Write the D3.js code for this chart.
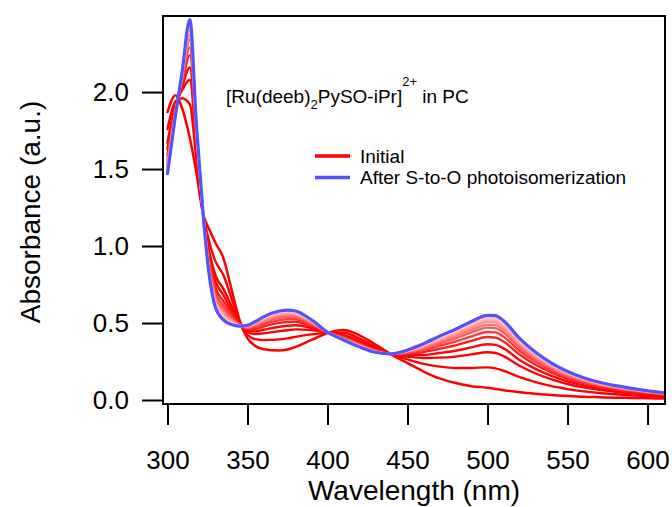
<!DOCTYPE html>
<html>
<head>
<meta charset="utf-8">
<script src="https://cdn.jsdelivr.net/npm/d3@7"></script>
<style>
  html, body { margin: 0; padding: 0; background: #fff; }
  svg { display: block; }
  text { font-family: "Liberation Sans", Arial, Helvetica, sans-serif; fill: #000; }
</style>
</head>
<body>
<svg id="chart" width="672" height="507"></svg>
<script>
// Wavelength grid (nm)
const wavelength = [300, 305, 309, 314, 318, 322, 326, 330, 335, 340, 345, 350, 355, 360, 370, 375, 380, 390, 400, 410, 420, 430, 440, 450, 460, 470, 480, 490, 500, 505, 510, 520, 530, 540, 550, 560, 570, 580, 590, 600, 611];

// Absorbance before irradiation
const initialSpectrum = [1.87, 1.98, 1.90, 1.70, 1.48, 1.22, 1.11, 1.02, 0.92, 0.72, 0.52, 0.40, 0.35, 0.33, 0.322, 0.328, 0.345, 0.39, 0.435, 0.455, 0.42, 0.36, 0.295, 0.24, 0.185, 0.14, 0.11, 0.09, 0.08, 0.072, 0.064, 0.05, 0.04, 0.032, 0.026, 0.021, 0.018, 0.015, 0.013, 0.011, 0.01];

// Absorbance after S-to-O photoisomerization
const finalSpectrum = [1.47, 1.85, 2.12, 2.47, 1.80, 1.24, 0.82, 0.60, 0.52, 0.49, 0.48, 0.485, 0.51, 0.54, 0.578, 0.584, 0.578, 0.52, 0.44, 0.39, 0.345, 0.31, 0.30, 0.325, 0.365, 0.415, 0.46, 0.51, 0.55, 0.548, 0.515, 0.40, 0.31, 0.24, 0.185, 0.145, 0.115, 0.093, 0.075, 0.06, 0.047];

// Spectra recorded during irradiation, in time order
const intermediateSpectra = [
  [1.76, 1.94, 1.96, 1.92, 1.57, 1.23, 1.03, 0.90, 0.81, 0.66, 0.509, 0.424, 0.395, 0.389, 0.394, 0.40, 0.41, 0.426, 0.436, 0.437, 0.399, 0.346, 0.296, 0.264, 0.235, 0.217, 0.208, 0.208, 0.212, 0.205, 0.19, 0.148, 0.116, 0.09, 0.071, 0.056, 0.045, 0.037, 0.03, 0.025, 0.02],
  [1.67, 1.92, 2.01, 2.08, 1.64, 1.23, 0.97, 0.81, 0.72, 0.61, 0.50, 0.442, 0.428, 0.433, 0.447, 0.453, 0.459, 0.454, 0.437, 0.423, 0.383, 0.335, 0.297, 0.282, 0.273, 0.275, 0.282, 0.296, 0.31, 0.305, 0.285, 0.222, 0.172, 0.134, 0.104, 0.082, 0.066, 0.053, 0.043, 0.035, 0.028],
  [1.63, 1.90, 2.03, 2.16, 1.67, 1.23, 0.94, 0.77, 0.68, 0.58, 0.496, 0.451, 0.446, 0.456, 0.476, 0.482, 0.485, 0.468, 0.438, 0.416, 0.375, 0.33, 0.298, 0.291, 0.293, 0.305, 0.32, 0.342, 0.362, 0.358, 0.335, 0.26, 0.202, 0.157, 0.121, 0.095, 0.076, 0.062, 0.05, 0.04, 0.032],
  [1.59, 1.89, 2.05, 2.24, 1.70, 1.23, 0.91, 0.73, 0.64, 0.56, 0.492, 0.46, 0.462, 0.477, 0.501, 0.507, 0.508, 0.481, 0.439, 0.409, 0.367, 0.325, 0.299, 0.30, 0.311, 0.333, 0.355, 0.384, 0.409, 0.405, 0.38, 0.295, 0.229, 0.178, 0.137, 0.108, 0.086, 0.07, 0.056, 0.045, 0.036],
  [1.56, 1.88, 2.07, 2.29, 1.73, 1.24, 0.89, 0.70, 0.61, 0.54, 0.489, 0.465, 0.473, 0.492, 0.519, 0.525, 0.524, 0.49, 0.439, 0.405, 0.362, 0.321, 0.299, 0.305, 0.324, 0.352, 0.38, 0.413, 0.442, 0.439, 0.411, 0.32, 0.248, 0.192, 0.148, 0.116, 0.093, 0.075, 0.061, 0.049, 0.038],
  [1.54, 1.87, 2.08, 2.34, 1.75, 1.24, 0.87, 0.67, 0.59, 0.53, 0.487, 0.471, 0.483, 0.504, 0.534, 0.54, 0.538, 0.498, 0.439, 0.401, 0.358, 0.318, 0.299, 0.311, 0.334, 0.368, 0.401, 0.439, 0.47, 0.467, 0.438, 0.341, 0.264, 0.205, 0.158, 0.124, 0.099, 0.08, 0.064, 0.052, 0.041],
  [1.52, 1.87, 2.09, 2.37, 1.76, 1.24, 0.86, 0.65, 0.57, 0.52, 0.485, 0.474, 0.489, 0.513, 0.545, 0.551, 0.548, 0.503, 0.439, 0.398, 0.355, 0.316, 0.299, 0.314, 0.342, 0.379, 0.415, 0.455, 0.489, 0.486, 0.456, 0.355, 0.275, 0.213, 0.164, 0.129, 0.102, 0.083, 0.067, 0.054, 0.042],
  [1.51, 1.86, 2.10, 2.40, 1.77, 1.24, 0.85, 0.64, 0.56, 0.51, 0.484, 0.477, 0.496, 0.521, 0.555, 0.561, 0.557, 0.508, 0.44, 0.396, 0.352, 0.314, 0.30, 0.317, 0.349, 0.39, 0.429, 0.472, 0.508, 0.505, 0.474, 0.369, 0.286, 0.221, 0.171, 0.134, 0.106, 0.086, 0.069, 0.056, 0.044],
  [1.49, 1.86, 2.11, 2.42, 1.78, 1.24, 0.84, 0.63, 0.54, 0.50, 0.482, 0.48, 0.50, 0.527, 0.563, 0.569, 0.564, 0.512, 0.44, 0.394, 0.349, 0.313, 0.30, 0.32, 0.354, 0.399, 0.439, 0.485, 0.522, 0.519, 0.488, 0.379, 0.294, 0.228, 0.175, 0.138, 0.109, 0.088, 0.071, 0.057, 0.045],
  [1.49, 1.86, 2.11, 2.44, 1.79, 1.24, 0.83, 0.62, 0.54, 0.50, 0.482, 0.482, 0.504, 0.532, 0.568, 0.574, 0.569, 0.515, 0.44, 0.393, 0.348, 0.312, 0.30, 0.322, 0.358, 0.404, 0.446, 0.493, 0.531, 0.529, 0.497, 0.386, 0.299, 0.232, 0.179, 0.14, 0.111, 0.09, 0.073, 0.058, 0.046],
  [1.48, 1.85, 2.12, 2.45, 1.79, 1.24, 0.83, 0.61, 0.53, 0.50, 0.481, 0.483, 0.507, 0.536, 0.573, 0.579, 0.573, 0.517, 0.44, 0.391, 0.346, 0.311, 0.30, 0.323, 0.361, 0.41, 0.453, 0.502, 0.541, 0.538, 0.506, 0.393, 0.305, 0.236, 0.182, 0.143, 0.113, 0.091, 0.074, 0.059, 0.046]
];

// Axis ticks
const xTicks = [300, 350, 400, 450, 500, 550, 600];
const yTicks = [0.0, 0.5, 1.0, 1.5, 2.0];

// Legend entries
const legendLabels = ["Initial", "After S-to-O photoisomerization"];

// ---- layout ----
const plot = { left: 163, top: 16, right: 665, bottom: 404 };
const svg = d3.select("#chart");

const x = d3.scaleLinear().domain([297.2, 610.9]).range([plot.left, plot.right]);
const y = d3.scaleLinear().domain([-0.026, 2.494]).range([plot.bottom, plot.top]);

// colours: saturated red fading to pale pink over the irradiation series
const red = "#ff0000";
const blue = "#5252ff";
const fadeColors = ["#ff0000", "#ff0000", "#ff0606", "#ff1c1c", "#ff3a3a", "#ff5a5a", "#ff7878", "#ff9494", "#ffabab", "#ffbebe", "#ffcdcd"];

svg.append("defs").append("clipPath").attr("id", "plotClip")
  .append("rect")
  .attr("x", plot.left).attr("y", plot.top)
  .attr("width", plot.right - plot.left).attr("height", plot.bottom - plot.top);

const line = d3.line()
  .x((d, i) => x(wavelength[i]))
  .y(d => y(d))
  .curve(d3.curveMonotoneX);

const traces = svg.append("g").attr("clip-path", "url(#plotClip)")
  .attr("fill", "none").attr("stroke-linejoin", "round").attr("stroke-linecap", "round");

traces.append("path").attr("d", line(initialSpectrum))
  .attr("stroke", red).attr("stroke-width", 2.5);

intermediateSpectra.forEach((s, k) => {
  traces.append("path").attr("d", line(s))
    .attr("stroke", fadeColors[k]).attr("stroke-width", 2.4);
});

traces.append("path").attr("d", line(finalSpectrum))
  .attr("stroke", blue).attr("stroke-width", 3.2);

// frame
svg.append("rect")
  .attr("x", plot.left).attr("y", plot.top)
  .attr("width", plot.right - plot.left).attr("height", plot.bottom - plot.top)
  .attr("fill", "none").attr("stroke", "#000").attr("stroke-width", 2);

// bottom axis
const xAxis = d3.axisBottom(x).tickValues(xTicks).tickSize(20).tickSizeOuter(0).tickPadding(26)
  .tickFormat(d3.format("d"));
const gx = svg.append("g").attr("transform", `translate(0,${plot.bottom + 1})`).call(xAxis);
gx.select(".domain").remove();
gx.selectAll(".tick line").attr("stroke", "#000").attr("stroke-width", 2);
gx.selectAll(".tick text").attr("font-size", 26).attr("font-family", null);

// left axis
const yAxis = d3.axisLeft(y).tickValues(yTicks).tickSize(20).tickSizeOuter(0).tickPadding(13)
  .tickFormat(d3.format(".1f"));
const gy = svg.append("g").attr("transform", `translate(${plot.left - 1},0)`).call(yAxis);
gy.select(".domain").remove();
gy.selectAll(".tick line").attr("stroke", "#000").attr("stroke-width", 2);
gy.selectAll(".tick text").attr("font-size", 26).attr("font-family", null);

// axis titles
svg.append("text")
  .attr("x", (plot.left + plot.right) / 2).attr("y", 500)
  .attr("text-anchor", "middle").attr("font-size", 28)
  .text("Wavelength (nm)");

svg.append("text")
  .attr("transform", "translate(40,212) rotate(-90)")
  .attr("text-anchor", "middle").attr("font-size", 28)
  .text("Absorbance (a.u.)");

// compound label
const title = svg.append("text").attr("x", 226).attr("y", 103).attr("font-size", 19);
title.append("tspan").text("[Ru(deeb)");
title.append("tspan").attr("font-size", 13).attr("dy", 6).text("2");
title.append("tspan").attr("dy", -6).text("PySO-iPr]");
title.append("tspan").attr("font-size", 13).attr("dy", -17).text("2+");
title.append("tspan").attr("dy", 17).text("\u00a0in PC");

// legend
const legendColors = [red, blue];
const legend = svg.append("g");
legendLabels.forEach((lab, i) => {
  const ly = 156 + i * 21.5;
  legend.append("line")
    .attr("x1", 315).attr("x2", 350).attr("y1", ly).attr("y2", ly)
    .attr("stroke", legendColors[i]).attr("stroke-width", 3.5);
  legend.append("text")
    .attr("x", 360).attr("y", ly + 6.5).attr("font-size", 19)
    .text(lab);
});
</script>
</body>
</html>
